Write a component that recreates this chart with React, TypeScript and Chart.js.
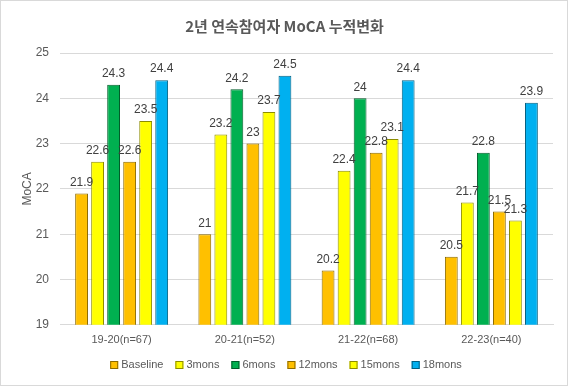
import React, { useEffect, useRef } from "react";
import { Chart, registerables } from "chart.js";

Chart.register(...registerables);

const categories = ["19-20(n=67)", "20-21(n=52)", "21-22(n=68)", "22-23(n=40)"];
const seriesNames = ["Baseline", "3mons", "6mons", "12mons", "15mons", "18mons"];
const baseline = [21.9, 21, 20.2, 20.5];
const mons3 = [22.6, 23.2, 22.4, 21.7];
const mons6 = [24.3, 24.2, 24, 22.8];
const mons12 = [22.6, 23, 22.8, 21.5];
const mons15 = [23.5, 23.7, 23.1, 21.3];
const mons18 = [24.4, 24.5, 24.4, 23.9];
const yTicks = [19, 20, 21, 22, 23, 24, 25];

const fills = ["#FFC000", "#FFFF00", "#00B050", "#FFC000", "#FFFF00", "#00B0F0"];
const borders = ["#8C6A00", "#8C8C00", "#005C2A", "#8C6A00", "#8C8C00", "#005F80"];

const FONT = "'Liberation Sans', Arial, sans-serif";

const labelPlugin = {
  id: "valueLabels",
  afterDatasetsDraw(chart: any) {
    const ctx = chart.ctx;
    ctx.save();
    ctx.font = `12px ${FONT}`;
    ctx.fillStyle = "#404040";
    ctx.textAlign = "center";
    ctx.textBaseline = "bottom";
    chart.data.datasets.forEach((ds: any, i: number) => {
      const meta = chart.getDatasetMeta(i);
      meta.data.forEach((bar: any, j: number) => {
        ctx.fillText(String(ds.data[j]), bar.x, bar.y - 5);
      });
    });
    ctx.restore();
  },
};

const legendPlugin = {
  id: "customLegend",
  afterDraw(chart: any) {
    const ctx = chart.ctx;
    ctx.save();
    ctx.font = `11px ${FONT}`;
    const items = chart.data.datasets.map((ds: any) => ({
      label: ds.label,
      fill: ds.backgroundColor,
      stroke: ds.borderColor,
      w: 8 + 3 + ctx.measureText(ds.label).width,
    }));
    const gap = 12;
    const total = items.reduce((s: number, it: any) => s + it.w, 0) + gap * (items.length - 1);
    let x = chart.width / 2 + 2 - total / 2;
    const y = 365;
    ctx.textBaseline = "middle";
    ctx.textAlign = "left";
    items.forEach((it: any) => {
      ctx.fillStyle = it.fill;
      ctx.fillRect(x, y - 4, 8, 8);
      ctx.strokeStyle = it.stroke;
      ctx.lineWidth = 1;
      ctx.strokeRect(x + 0.5, y - 3.5, 7, 7);
      ctx.fillStyle = "#595959";
      ctx.fillText(it.label, x + 11, y);
      x += it.w + gap;
    });
    ctx.restore();
  },
};

const framePlugin = {
  id: "frame",
  afterDraw(chart: any) {
    const ctx = chart.ctx;
    ctx.save();
    ctx.strokeStyle = "#D9D9D9";
    ctx.lineWidth = 1;
    ctx.strokeRect(0.5, 0.5, chart.width - 1, chart.height - 1);
    ctx.restore();
  },
};

export default function App() {
  const ref = useRef<HTMLCanvasElement>(null);
  useEffect(() => {
    document.body.style.margin = "0";
    const all = [baseline, mons3, mons6, mons12, mons15, mons18];
    const chart = new Chart(ref.current!, {
      type: "bar",
      data: {
        labels: categories,
        datasets: all.map((d, i) => ({
          label: seriesNames[i],
          data: d,
          backgroundColor: fills[i],
          borderColor: borders[i],
          borderWidth: 1,
          categoryPercentage: 0.78,
          barPercentage: 0.8,
        })),
      },
      options: {
        responsive: false,
        animation: false,
        layout: { padding: { left: 16, right: 15, top: 8, bottom: 38 } },
        plugins: {
          title: {
            display: true,
            text: "2년 연속참여자 MoCA 누적변화",
            color: "#595959",
            font: { family: "'Noto Sans CJK KR', " + FONT, size: 15, weight: "bold" },
            padding: { top: 9, bottom: 18 },
          },
          legend: { display: false },
          tooltip: { enabled: false },
        },
        scales: {
          x: {
            grid: { display: false },
            border: { color: "#D9D9D9" },
            ticks: { color: "#595959", font: { family: FONT, size: 11 }, padding: 1 },
          },
          y: {
            min: 19,
            max: 25,
            afterBuildTicks: (s: any) => {
              s.ticks = yTicks.map((v) => ({ value: v }));
            },
            afterFit: (s: any) => {
              s.width = 44;
            },
            grid: { color: "#D9D9D9", drawTicks: false },
            border: { display: false },
            ticks: { color: "#595959", font: { family: FONT, size: 12 }, padding: 11 },
            title: {
              display: true,
              text: "MoCA",
              color: "#595959",
              font: { family: FONT, size: 12 },
              padding: { top: 4, bottom: 0 },
            },
          },
        },
      },
      plugins: [labelPlugin, legendPlugin, framePlugin],
    });
    return () => chart.destroy();
  }, []);
  return <canvas ref={ref} width={568} height={386} style={{ display: "block" }} />;
}
